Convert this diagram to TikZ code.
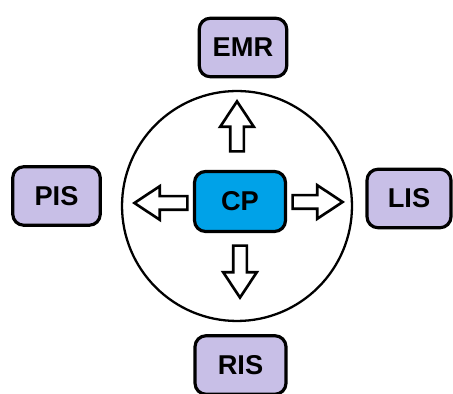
\documentclass[tikz,border=0pt]{standalone}
\usepackage{fontspec}
\setmainfont{Liberation Sans}
\usetikzlibrary{shapes.arrows}
\definecolor{lavender}{RGB}{200,191,231}
\definecolor{paintblue}{RGB}{0,162,232}
\tikzset{
	box/.style={draw, rounded corners=0.22cm, line width=1.8pt, fill=lavender, minimum width=1.75cm, minimum height=1.17cm, font=\fontsize{15.5}{18}\selectfont\bfseries},
	blockarrow/.style={draw, single arrow, fill=white, line width=1.5pt, inner sep=0.11cm, single arrow head extend=0.2cm, single arrow tip angle=67, minimum height=1cm, anchor=tip}
}
\begin{document}
\begin{tikzpicture}[x=0.02cm, y=-0.02cm]
		\useasboundingbox (0,0) rectangle (453,394);
		\node[draw, circle, line width=1.3pt, minimum size=4.6cm] (ring) at (237,206) {};

		\node[box, fill=paintblue, minimum width=1.82cm, minimum height=1.2cm] (cp) at (240,201.5) {CP};
		\node[box] (emr) at (243,47.5) {EMR};
		\node[box] (pis) at (56.5,196) {PIS};
		\node[box, minimum width=1.68cm] (lis) at (409,198.5) {LIS};
		\node[box, minimum width=1.82cm] (ris) at (240.5,365) {RIS};

		\node[blockarrow, rotate=90] (up) at (237,99) {};
		\node[blockarrow, rotate=180, minimum height=1.06cm] (left) at (132,203) {};
		\node[blockarrow] (right) at (345,202) {};
		\node[blockarrow, rotate=-90, minimum height=1.04cm] (down) at (240,300) {};

	\end{tikzpicture}
\end{document}
